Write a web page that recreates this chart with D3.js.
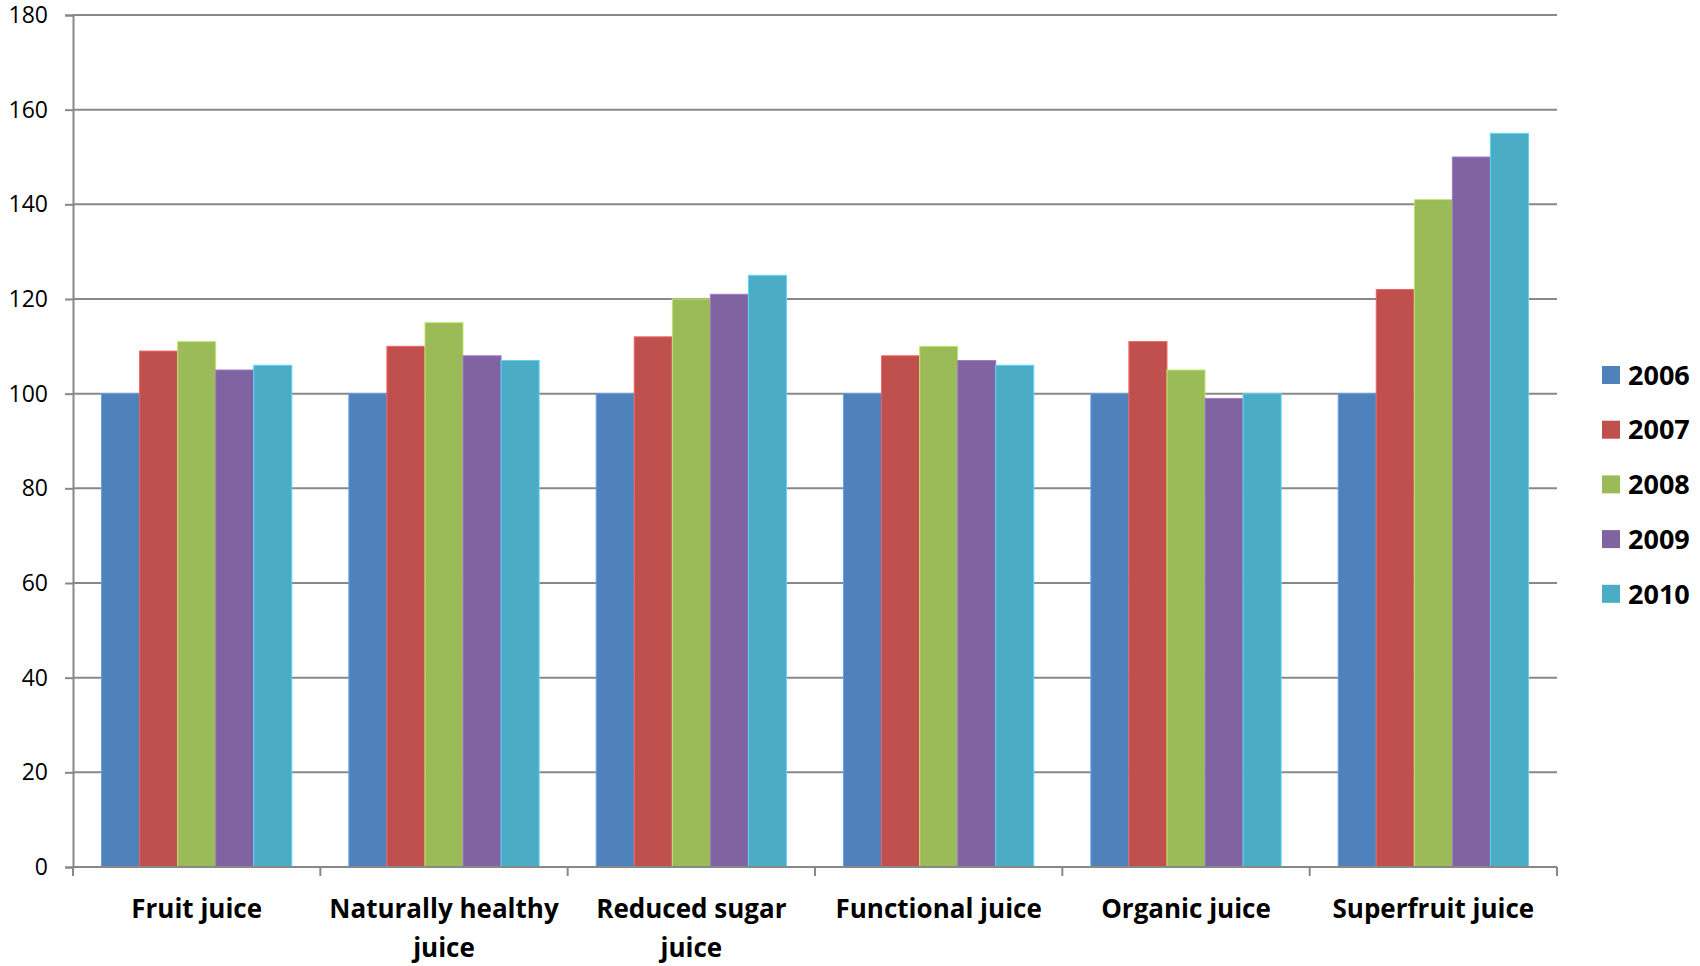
<!DOCTYPE html>
<html>
<head>
<meta charset="utf-8">
<script src="https://cdn.jsdelivr.net/npm/d3@7"></script>
<style>
  html, body { margin: 0; padding: 0; background: #fff; }
  svg { display: block; }
</style>
</head>
<body>
<svg id="chart" width="1700" height="966"></svg>
<script>
// Juice segment index by year (2006 = 100)
const categories = ["Fruit juice", "Naturally healthy juice", "Reduced sugar juice",
                    "Functional juice", "Organic juice", "Superfruit juice"];
const years = ["2006", "2007", "2008", "2009", "2010"];
const values2006 = [100, 100, 100, 100, 100, 100];
const values2007 = [109, 110, 112, 108, 111, 122];
const values2008 = [111, 115, 120, 110, 105, 141];
const values2009 = [105, 108, 121, 107, 99, 150];
const values2010 = [106, 107, 125, 106, 100, 155];
const yTicks = [0, 20, 40, 60, 80, 100, 120, 140, 160, 180];
const colors = ["#4F81BD", "#C0504D", "#9BBB59", "#8064A2", "#4BACC6"];

const seriesValues = [values2006, values2007, values2008, values2009, values2010];
const rows = categories.map((c, i) => ({
  category: c,
  vals: years.map((yr, s) => ({ year: yr, value: seriesValues[s][i], s }))
}));

const svg = d3.select("#chart");
const plotLeft = 73, plotRight = 1557, plotTop = 15, plotBottom = 867;
const gridColor = "#888888";

const x = d3.scaleBand().domain(categories).range([plotLeft, plotRight]).paddingInner(0).paddingOuter(0);
// Gap width of 150%: each band holds 5 bars + 1.5 bar widths of gap
const barW = x.bandwidth() / 6.5;
const xInner = d3.scaleBand().domain(years).range([0, barW * 5]);
const y = d3.scaleLinear().domain([0, 180]).range([plotBottom, plotTop]);

// Y axis with outside ticks
const yAxis = d3.axisLeft(y).tickValues(yTicks).tickSize(8).tickPadding(17);
const gy = svg.append("g").attr("transform", `translate(${plotLeft},0)`).call(yAxis);
gy.select(".domain").attr("stroke", gridColor).attr("stroke-width", 2);
gy.selectAll(".tick line").attr("stroke", gridColor).attr("stroke-width", 2);
gy.selectAll(".tick text")
  .attr("font-family", "'Open Sans', sans-serif")
  .attr("font-size", 23)
  .attr("fill", "#000");

// Horizontal gridlines
svg.append("g").selectAll("line").data(yTicks.filter(t => t > 0)).join("line")
  .attr("x1", plotLeft).attr("x2", plotRight)
  .attr("y1", d => y(d)).attr("y2", d => y(d))
  .attr("stroke", gridColor).attr("stroke-width", 2);

// Bars
const groups = svg.append("g").selectAll("g").data(rows).join("g")
  .attr("transform", d => `translate(${x(d.category) + barW * 0.75},0)`);
groups.selectAll("rect").data(d => d.vals).join("rect")
  .attr("x", d => xInner(d.year))
  .attr("y", d => y(d.value))
  .attr("width", xInner.bandwidth())
  .attr("height", d => y(0) - y(d.value))
  .attr("fill", d => colors[d.s])
  .attr("stroke", d => d3.color(colors[d.s]).brighter(0.6))
  .attr("stroke-width", 1);

// X axis with ticks at category boundaries
const gx = svg.append("g");
gx.append("line").attr("x1", plotLeft).attr("x2", plotRight).attr("y1", plotBottom).attr("y2", plotBottom)
  .attr("stroke", gridColor).attr("stroke-width", 2);
const boundaries = categories.map(c => x(c)).concat([x(categories[categories.length - 1]) + x.bandwidth()]);
gx.selectAll("line.tk").data(boundaries).join("line").attr("class", "tk")
  .attr("x1", d => d).attr("x2", d => d).attr("y1", plotBottom).attr("y2", plotBottom + 9)
  .attr("stroke", gridColor).attr("stroke-width", 2);

// Category labels, wrapped to the band width
const maxW = x.bandwidth() - 8;
const labels = svg.append("g").selectAll("text").data(categories).join("text")
  .attr("text-anchor", "middle")
  .attr("font-family", "'Open Sans', sans-serif")
  .attr("font-weight", "bold")
  .attr("font-size", 26)
  .attr("fill", "#000");
labels.each(function (d) {
  const t = d3.select(this);
  const cx = x(d) + x.bandwidth() / 2;
  const words = d.split(" ");
  const lines = [];
  let line = [];
  const probe = t.append("tspan");
  words.forEach(w => {
    const test = line.concat([w]).join(" ");
    probe.text(test);
    if (probe.node().getComputedTextLength() > maxW && line.length) {
      lines.push(line.join(" "));
      line = [w];
    } else {
      line.push(w);
    }
  });
  lines.push(line.join(" "));
  probe.remove();
  lines.forEach((l, i) => {
    t.append("tspan").attr("x", cx).attr("y", 918 + i * 39).text(l);
  });
});

// Legend
const legend = svg.append("g").selectAll("g").data(years).join("g")
  .attr("transform", (d, i) => `translate(1602,${375 + i * 54.7})`);
legend.append("rect").attr("x", 0).attr("y", -9).attr("width", 18).attr("height", 18)
  .attr("fill", (d, i) => colors[i]);
legend.append("text").attr("x", 26).attr("y", 0).attr("dy", "0.36em")
  .attr("font-family", "'Open Sans', sans-serif")
  .attr("font-weight", "bold")
  .attr("font-size", 27)
  .attr("fill", "#000")
  .text(d => d);
</script>
</body>
</html>
